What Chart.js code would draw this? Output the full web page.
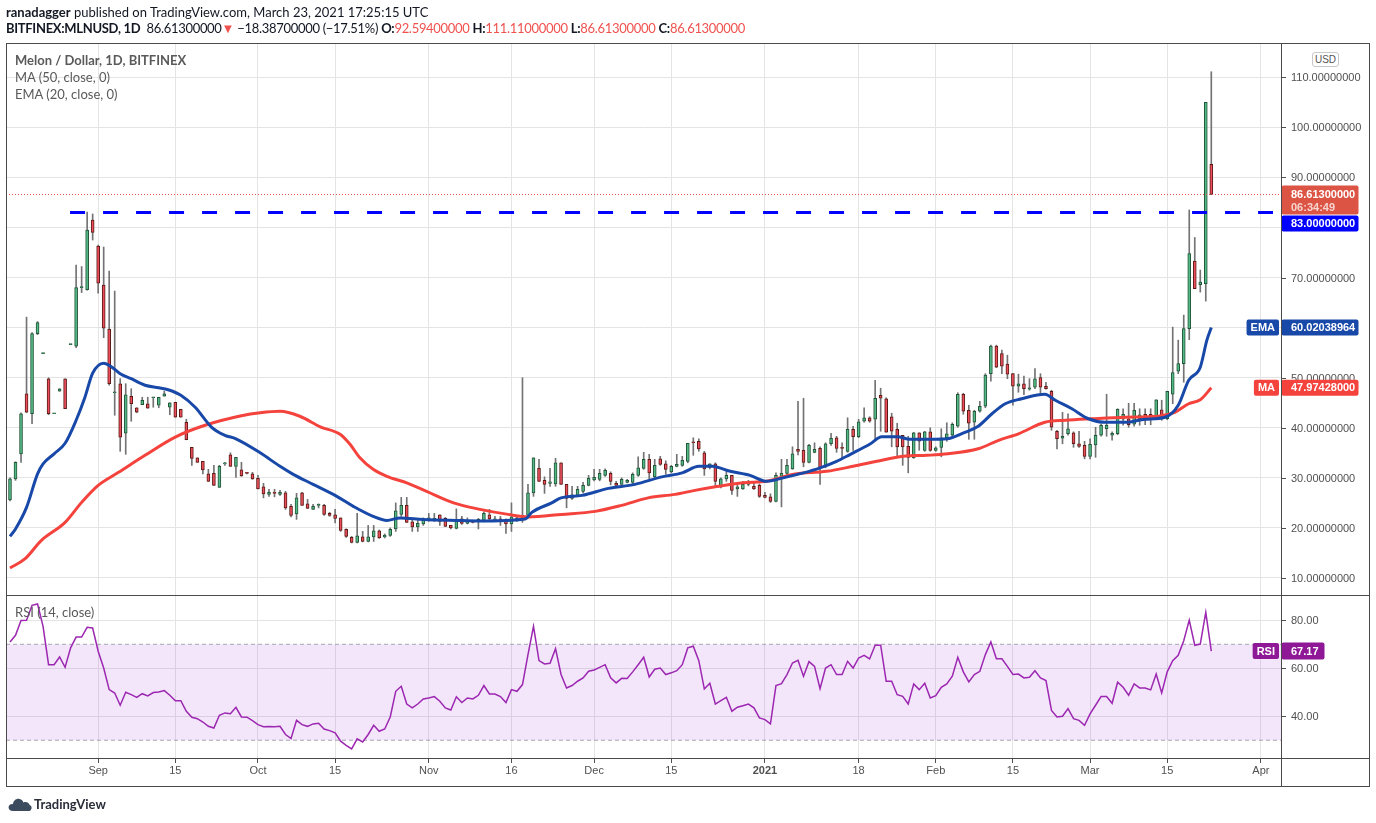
<!DOCTYPE html>
<html>
<head>
<meta charset="utf-8">
<title>Melon / Dollar, 1D, BITFINEX</title>
<script src="https://cdn.jsdelivr.net/npm/chart.js@4.4.1/dist/chart.umd.min.js"></script>
<style>
  html, body { margin: 0; padding: 0; background: #fff; }
  body { width: 1376px; height: 823px; position: relative; overflow: hidden;
         font-family: Lato, "Liberation Sans", sans-serif; color: #131722; }
  canvas { position: absolute; left: 0; top: 0; z-index: 1; }
  .txt { position: absolute; white-space: nowrap; z-index: 3; }
  .ln { position: absolute; background: #4a4a4a; z-index: 2; }
  .dn { color: #ef5350; }
  .hdr { font-size: 13px; line-height: 16px; }
  .lg { font-size: 13px; line-height: 17px; color: #5a5a5a; }
  #usd { position: absolute; left: 1312px; top: 52px; width: 25px; height: 13px; z-index: 3;
         border: 1px solid #c8c8c8; border-radius: 3px; font: 10px "Liberation Sans", Arial, sans-serif;
         line-height: 13px; text-align: center; color: #555; background: #fff; }
</style>
</head>
<body>

<div class="txt hdr" style="left:6px;top:4px"><b>ranadagger</b> published on TradingView.com, March 23, 2021 17:25:15 UTC</div>
<div class="txt hdr" style="left:6px;top:20px;letter-spacing:-0.3px"><b>BITFINEX:MLNUSD, 1D</b>&nbsp; 86.61300000<span class="dn">▼</span> −18.38700000 (−17.51%) <b>O:</b><span class="dn">92.59400000</span> <b>H:</b><span class="dn">111.11000000</span> <b>L:</b><span class="dn">86.61300000</span> <b>C:</b><span class="dn">86.61300000</span></div>

<div class="txt lg" style="left:15px;top:52px;font-weight:bold">Melon / Dollar, 1D, BITFINEX</div>
<div class="txt lg" style="left:15px;top:69px">MA (50, close, 0)</div>
<div class="txt lg" style="left:15px;top:86px">EMA (20, close, 0)</div>
<div class="txt lg" style="left:15px;top:604px">RSI (14, close)</div>
<div id="usd">USD</div>

<div class="ln" style="left:6px;top:43px;width:1364px;height:1px"></div>
<div class="ln" style="left:6px;top:786px;width:1364px;height:1px"></div>
<div class="ln" style="left:6px;top:43px;width:1px;height:744px"></div>
<div class="ln" style="left:1369px;top:43px;width:1px;height:744px"></div>
<div class="ln" style="left:1281px;top:43px;width:1px;height:744px"></div>
<div class="ln" style="left:6px;top:595px;width:1364px;height:1px"></div>
<div class="ln" style="left:6px;top:758px;width:1364px;height:1px"></div>

<svg class="txt" style="left:8px;top:796px" width="24" height="16" viewBox="0 0 24 16">
  <path d="M5 15 C1.5 15 0 12.5 0.8 10.3 C1.5 8.3 3.4 7.6 5 8 C5.4 4.8 7.8 2.6 10.8 2.8 C13.2 3 14.8 4.6 15.4 6.4 C17.6 5.2 21 6.2 21.6 9 C23.8 9.6 24.4 12.8 22.4 14.4 C21.8 14.8 21.2 15 20.4 15 Z" fill="#3d4b5e"/>
</svg>
<div class="txt" style="left:34px;top:796px;font-size:13px;line-height:16px;font-weight:bold;color:#2a2e39">TradingView</div>

<canvas id="rsiChart" width="1376" height="823"></canvas>
<canvas id="priceChart" width="1376" height="823"></canvas>

<script>
// daily candles, 16 Aug 2020 .. 23 Mar 2021 (index = bar number)
const openPx = [
  25.6, 29.8, 34.8, 46.8, 42.8, 58.8, 54.8, 49.8, 42.8, 47.3,
  49.8, 56.6, 56.3, 68.0, 67.6, 81.5, 76.3, 68.5, 59.7, 47.0,
  48.8, 38.9, 46.3, 44.0, 44.6, 44.8, 46.0, 44.5, 46.3, 44.1,
  45.1, 43.7, 41.1, 36.1, 34.0, 33.3, 30.8, 30.9, 28.1, 32.8,
  34.6, 32.3, 31.6, 31.0, 30.8, 29.9, 28.2, 26.7, 27.0, 26.7,
  27.0, 24.3, 22.8, 27.0, 24.8, 23.7, 24.5, 24.5, 22.9, 22.6,
  22.0, 19.7, 18.1, 17.1, 18.2, 17.3, 18.2, 19.4, 18.2, 18.5,
  19.8, 22.7, 24.5, 21.2, 20.2, 20.8, 21.8, 21.6, 22.6, 21.9,
  20.5, 19.9, 21.8, 20.9, 21.3, 21.2, 21.5, 22.6, 21.5, 21.8,
  21.5, 20.8, 21.5, 21.8, 22.5, 27.0, 31.9, 29.5, 28.9, 28.8,
  33.0, 28.7, 25.9, 26.5, 27.3, 28.5, 29.6, 29.7, 30.5, 30.9,
  28.9, 28.7, 29.1, 29.1, 30.5, 31.9, 33.7, 30.2, 33.8, 32.8,
  31.2, 32.3, 32.5, 33.3, 37.2, 37.3, 35.0, 32.1, 32.8, 28.2,
  29.8, 30.5, 27.8, 27.8, 28.7, 28.3, 28.5, 26.5, 26.2, 25.3,
  30.3, 30.9, 31.8, 35.7, 35.5, 33.1, 35.1, 35.9, 32.2, 36.8,
  38.0, 36.1, 35.3, 39.7, 38.2, 41.3, 42.0, 41.7, 46.5, 45.8,
  42.2, 39.7, 38.5, 36.3, 34.0, 39.0, 35.5, 39.2, 35.5, 36.1,
  38.0, 38.5, 40.3, 46.7, 43.5, 41.1, 43.3, 44.3, 50.8, 56.3,
  54.8, 52.7, 50.8, 48.3, 48.8, 47.7, 48.1, 50.0, 48.3, 47.3,
  39.3, 37.9, 38.8, 39.0, 36.8, 36.5, 34.3, 36.6, 38.5, 39.8,
  38.5, 38.8, 41.7, 41.8, 40.7, 41.8, 42.7, 42.7, 42.0, 43.6,
  41.8, 46.7, 51.3, 52.8, 59.8, 73.3, 68.6, 68.8, 92.594
];
const highPx = [
  30.0, 33.2, 43.0, 62.1, 59.0, 61.2, 54.8, 50.0, 42.8, 47.8,
  49.8, 56.6, 72.5, 72.2, 83.1, 82.7, 76.5, 76.1, 71.3, 67.3,
  49.8, 48.8, 47.8, 44.0, 46.1, 46.1, 46.0, 46.1, 47.3, 45.0,
  45.1, 43.7, 41.7, 36.1, 34.0, 33.3, 31.7, 32.5, 32.5, 33.1,
  35.0, 34.1, 33.1, 31.1, 31.1, 30.5, 28.9, 27.7, 27.7, 27.5,
  27.3, 24.7, 26.9, 27.1, 25.7, 24.7, 24.8, 24.7, 23.1, 23.7,
  22.0, 19.8, 18.3, 22.9, 19.3, 20.5, 20.5, 19.6, 18.8, 20.0,
  25.0, 26.1, 26.1, 21.8, 21.7, 22.0, 22.9, 22.9, 22.6, 22.1,
  20.5, 23.8, 22.3, 22.0, 21.4, 21.9, 23.2, 23.7, 22.3, 22.3,
  21.8, 25.0, 22.1, 50.0, 28.7, 34.0, 33.7, 30.2, 31.9, 33.9,
  33.0, 28.7, 28.3, 28.3, 29.1, 30.5, 31.7, 31.7, 31.8, 31.2,
  29.3, 30.0, 29.7, 31.0, 34.2, 35.1, 34.7, 33.7, 34.3, 33.4,
  32.5, 34.7, 34.3, 36.9, 38.0, 37.8, 35.3, 32.8, 33.0, 30.0,
  31.3, 30.5, 28.7, 29.3, 29.5, 29.3, 28.8, 27.1, 26.8, 31.0,
  33.7, 33.7, 36.2, 45.3, 45.9, 36.7, 37.0, 36.2, 37.0, 38.9,
  38.3, 37.0, 42.0, 40.3, 41.7, 44.0, 42.2, 49.5, 47.9, 46.0,
  42.9, 40.9, 38.5, 38.3, 39.1, 39.0, 39.3, 40.0, 36.2, 39.8,
  41.0, 41.0, 47.0, 46.9, 44.5, 43.5, 45.3, 50.8, 56.5, 56.5,
  55.5, 54.5, 50.8, 50.7, 50.3, 49.8, 51.8, 50.8, 49.1, 47.5,
  39.5, 43.1, 42.8, 39.2, 39.3, 37.3, 37.8, 40.1, 40.7, 46.7,
  39.2, 43.8, 43.8, 44.9, 44.9, 43.8, 43.8, 43.8, 45.6, 45.5,
  47.3, 60.1, 57.5, 62.5, 83.5, 78.0, 71.5, 105.0, 111.11
];
const lowPx = [
  25.4, 29.5, 33.1, 43.0, 40.8, 58.6, 54.8, 42.6, 42.8, 47.3,
  43.8, 56.6, 56.0, 67.0, 67.5, 77.5, 66.9, 58.0, 48.5, 42.5,
  35.3, 34.7, 41.3, 43.0, 44.6, 43.9, 44.1, 44.0, 46.3, 42.6,
  42.1, 42.1, 37.6, 32.5, 33.1, 30.8, 29.3, 28.5, 28.1, 32.5,
  32.3, 30.1, 30.3, 30.8, 29.7, 27.8, 26.0, 26.3, 26.2, 26.5,
  23.7, 22.2, 21.7, 24.5, 23.9, 23.7, 24.0, 22.5, 22.3, 21.0,
  19.3, 18.1, 17.0, 17.0, 17.2, 17.2, 17.3, 17.9, 18.0, 18.3,
  19.3, 22.3, 21.1, 19.3, 19.3, 20.5, 21.3, 21.3, 20.5, 20.3,
  19.8, 19.8, 20.7, 20.8, 21.0, 19.8, 21.2, 21.5, 21.3, 20.5,
  18.9, 19.3, 21.3, 21.1, 22.3, 26.3, 29.3, 26.9, 28.3, 28.3,
  28.7, 24.0, 25.7, 26.3, 27.0, 28.4, 29.4, 29.4, 30.3, 28.6,
  28.5, 28.7, 29.0, 28.7, 30.3, 31.7, 29.7, 30.0, 32.5, 30.7,
  31.0, 32.2, 32.3, 33.0, 34.5, 35.3, 30.5, 31.8, 28.1, 28.0,
  29.3, 26.7, 26.3, 27.7, 28.4, 27.7, 26.1, 26.0, 25.1, 25.2,
  24.2, 30.5, 31.7, 34.6, 32.2, 33.0, 35.0, 28.7, 32.0, 36.5,
  35.1, 33.7, 35.1, 35.5, 38.0, 41.1, 41.1, 37.8, 39.3, 39.1,
  36.2, 34.0, 32.5, 31.0, 33.9, 35.5, 35.3, 35.3, 35.3, 34.2,
  37.3, 38.3, 40.1, 42.7, 37.7, 37.7, 43.1, 44.0, 49.3, 52.0,
  50.8, 49.8, 44.5, 47.1, 46.6, 47.5, 47.8, 46.8, 47.7, 39.5,
  35.8, 36.8, 38.5, 36.1, 36.1, 33.8, 33.8, 34.1, 38.3, 38.3,
  37.5, 38.6, 40.5, 40.1, 40.3, 40.5, 40.6, 40.6, 41.8, 41.5,
  41.6, 44.8, 50.8, 49.1, 57.6, 67.8, 67.1, 65.3, 86.613
];
const closePx = [
  29.8, 33.1, 42.8, 43.1, 58.8, 61.0, 54.8, 42.8, 42.8, 47.8,
  43.8, 56.6, 68.0, 68.0, 79.5, 79.0, 68.9, 59.9, 48.8, 47.0,
  38.1, 46.6, 44.8, 43.1, 45.5, 43.9, 46.0, 46.1, 46.8, 45.0,
  42.1, 42.1, 37.6, 33.9, 33.1, 31.6, 29.3, 28.5, 32.3, 32.8,
  32.3, 34.1, 30.4, 30.9, 29.8, 27.8, 26.8, 27.1, 26.9, 27.1,
  24.0, 22.5, 26.0, 24.5, 23.9, 24.3, 24.5, 22.7, 22.5, 21.9,
  19.5, 18.3, 17.1, 18.4, 17.3, 18.2, 19.4, 18.0, 18.5, 19.7,
  23.4, 24.5, 21.1, 20.2, 20.9, 21.6, 21.8, 21.9, 21.3, 20.3,
  20.0, 21.5, 20.9, 21.5, 21.1, 21.7, 22.9, 21.8, 21.8, 21.3,
  20.8, 22.2, 22.0, 22.5, 27.0, 34.0, 29.3, 28.7, 29.2, 33.0,
  28.7, 25.9, 26.6, 27.7, 28.5, 29.9, 30.1, 30.9, 31.5, 29.3,
  28.5, 29.7, 29.5, 30.7, 32.0, 33.7, 31.0, 32.5, 32.7, 31.7,
  32.3, 32.7, 33.5, 36.9, 37.0, 35.8, 31.8, 32.8, 29.3, 29.8,
  30.5, 27.5, 28.2, 28.7, 29.1, 27.8, 26.3, 26.1, 25.3, 30.5,
  30.9, 32.5, 34.8, 35.3, 33.1, 36.5, 35.7, 32.0, 36.8, 37.9,
  35.9, 35.9, 39.7, 38.2, 41.2, 42.0, 41.3, 45.9, 45.9, 39.1,
  39.3, 36.2, 36.2, 34.1, 39.0, 37.3, 39.2, 35.5, 36.0, 38.0,
  38.8, 40.7, 46.7, 43.3, 40.9, 43.3, 44.3, 50.5, 56.3, 52.1,
  52.3, 50.7, 48.3, 48.8, 47.8, 48.0, 49.8, 48.1, 47.8, 40.1,
  37.8, 38.3, 39.8, 36.8, 36.3, 34.3, 36.7, 38.5, 40.5, 40.5,
  38.9, 43.7, 42.7, 40.6, 43.5, 42.6, 42.1, 42.0, 45.6, 41.8,
  47.3, 51.0, 52.8, 59.8, 74.8, 67.8, 69.1, 105.0, 86.613
];

// indicator lines (bar index -> value)
const emaIdx = [0, 1, 3, 5, 6, 8, 10, 12, 13.6, 15, 17, 18.5, 20, 22, 24.5, 27, 28.7, 31, 33.6, 36.6,
  39, 41, 45.4, 49, 51.4, 55, 59.3, 62.3, 65.9, 68.4, 70.8, 75, 81, 85, 93.5, 94.7, 98.3, 100, 103.8, 108.6,
  113.4, 118.3, 122, 125, 127.4, 130.7, 134.3, 137.3, 140.3, 144, 147, 150, 152.5, 156, 158.2, 161, 163.3, 167, 170, 173.3,
  175.7, 178.2, 180.6, 183.6, 187.8, 189.7, 192.7, 195.7, 198.7, 202.4, 206, 209.6, 212, 213.9, 216, 217.2, 218];
const emaVal = [18.3, 19.8, 24.1, 30.8, 32.8, 34.8, 36.9, 41.5, 46.1, 50.9, 52.9, 52.1, 50.8, 49.8, 48.5, 48.0, 47.6, 46.5, 44.1, 40.1,
  38.5, 37.8, 35.0, 32.3, 30.7, 28.7, 26.3, 24.3, 22.3, 21.5, 22.0, 21.7, 21.5, 21.4, 21.8, 23.1, 25.0, 26.0, 26.5, 27.9,
  28.7, 30.2, 31.0, 32.3, 32.3, 31.3, 30.5, 29.3, 30.0, 31.0, 32.0, 33.3, 34.7, 36.7, 38.2, 38.2, 37.7, 37.7, 37.8, 39.1,
  40.3, 42.8, 44.8, 45.8, 46.7, 45.5, 43.8, 41.8, 41.1, 41.1, 41.7, 42.1, 44.5, 49.5, 52.1, 57.5, 60.02038964];
const maIdx = [0, 2.7, 5.7, 10, 13, 16, 19.7, 24.5, 29.9, 35.4, 42, 45.4, 49, 52.6, 56.3, 59.9, 61.7, 63.5, 65.9, 68.4,
  72, 75.6, 80.5, 85.3, 90.4, 94.1, 100.1, 106.2, 111, 115.8, 120.7, 124.3, 128, 133.1, 137.3, 142.2, 148.2, 153, 157.3, 162.1,
  166.4, 170.2, 175.7, 179.4, 183, 187.8, 191.5, 196.3, 202.4, 208.4, 211.4, 213.9, 216, 218];
const maVal = [12.0, 13.8, 17.5, 21.1, 25.1, 28.5, 31.1, 34.5, 38.1, 40.5, 42.4, 43.0, 43.3, 42.3, 40.2, 38.7, 36.7, 34.0, 31.7, 30.3,
  29.0, 27.3, 25.0, 23.7, 22.7, 22.2, 22.7, 23.3, 24.5, 26.0, 26.7, 27.5, 28.2, 29.0, 29.3, 30.7, 31.3, 32.3, 33.3, 34.3,
  34.5, 34.8, 35.8, 37.5, 38.8, 41.1, 41.5, 41.8, 42.1, 42.3, 43.1, 44.8, 45.6, 47.97428];

// RSI(14), one value per bar
const rsiVal = [
  71.0, 73.75, 79.9, 80.0, 86.25, 86.8, 77.5, 61.5, 61.5, 64.7,
  60.4, 68.5, 73.0, 73.0, 77.1, 76.8, 67.1, 60.1, 51.1, 49.7,
  44.6, 50.0, 49.0, 47.9, 49.4, 48.5, 49.9, 50.1, 50.7, 48.75,
  46.5, 46.5, 42.1, 39.6, 39.0, 37.6, 35.8, 35.1, 40.4, 41.4,
  41.1, 43.75, 39.7, 39.6, 38.2, 36.5, 35.6, 35.7, 35.6, 35.8,
  32.4, 30.7, 38.3, 36.5, 35.8, 36.8, 37.1, 34.7, 34.0, 33.1,
  29.6, 27.9, 26.4, 30.6, 29.3, 32.4, 36.25, 33.75, 34.7, 39.7,
  50.4, 52.5, 45.1, 43.5, 45.1, 47.2, 47.6, 48.2, 46.25, 43.5,
  42.6, 48.1, 45.7, 47.6, 47.2, 48.75, 52.8, 49.3, 49.3, 48.2,
  45.7, 51.1, 50.4, 53.2, 65.7, 77.5, 63.2, 61.8, 62.1, 68.2,
  57.4, 51.8, 52.8, 54.6, 56.0, 58.75, 59.3, 60.4, 61.5, 56.0,
  53.9, 55.8, 55.7, 58.5, 61.5, 64.6, 56.4, 59.6, 60.1, 57.4,
  58.1, 59.0, 61.5, 68.5, 69.2, 63.2, 51.4, 53.75, 45.1, 46.5,
  47.9, 42.1, 43.75, 44.4, 45.1, 43.5, 39.3, 38.6, 36.8, 52.8,
  53.6, 57.4, 62.2, 63.3, 56.7, 62.8, 60.8, 51.5, 60.1, 61.5,
  57.4, 57.4, 62.9, 60.1, 64.3, 65.4, 63.9, 69.6, 69.6, 54.6,
  54.6, 49.0, 48.3, 45.1, 53.5, 51.1, 53.75, 47.6, 48.6, 52.1,
  53.5, 56.7, 64.6, 58.5, 54.3, 57.4, 58.75, 65.7, 71.0, 64.0,
  64.0, 60.8, 57.4, 57.6, 56.0, 56.25, 59.0, 56.0, 54.9, 42.4,
  39.7, 40.0, 43.2, 39.0, 38.3, 36.25, 41.0, 44.6, 48.2, 48.2,
  45.4, 54.2, 52.1, 48.75, 53.5, 51.8, 51.8, 51.0, 57.6, 49.7,
  58.5, 63.2, 65.4, 71.5, 80.1, 69.6, 70.1, 83.3, 67.17
];

// axes
const tickIdx = [16, 30, 45, 59, 76, 91, 106, 120, 137, 154, 168, 182, 196, 210, 227];
const tickLabels = ['Sep', '15', 'Oct', '15', 'Nov', '16', 'Dec', '15', '2021', '18', 'Feb', '15', 'Mar', '15', 'Apr'];
const priceTicks = [10, 20, 30, 40, 50, 60, 70, 80, 90, 100, 110];
const rsiTicks = [40, 60, 80];
const rsiBand = [30, 70];
const levelPrice = 83;
const levelFrom = 10.9, levelTo = 229.2;
const xMin = -0.726, xMax = 230.65;

const upFill = '#53b987', upLine = '#225437';
const dnFill = '#eb4d5c', dnLine = '#5b1a13';
const wickColor = '#737375';
const emaColor = '#1848a8', maColor = '#f4433c', rsiColor = '#9c27b0';
const lastColor = '#ef5350', gridColor = '#e4e4e4', textColor = '#505050';
const axisFont = '11px "Liberation Sans", Arial, sans-serif';
const tagFont = 'bold 11px "Liberation Sans", Arial, sans-serif';

const lastClose = closePx[closePx.length - 1];
const isUp = closePx.map((c, i) => c >= openPx[i]);

function tag(ctx, x, top, w, h, color) {
  ctx.fillStyle = color;
  ctx.beginPath();
  if (ctx.roundRect) ctx.roundRect(x, top, w, h, 2); else ctx.rect(x, top, w, h);
  ctx.fill();
}

function sideTag(ctx, right, cy, text, color) {
  ctx.font = tagFont;
  const w = ctx.measureText(text).width + 8;
  tag(ctx, right - w, cy - 8, w, 16, color);
  ctx.fillStyle = '#fff';
  ctx.textAlign = 'center';
  ctx.fillText(text, right - w / 2, cy + 0.5);
  ctx.textAlign = 'left';
}

function axisLabels(chart, ticks, digits) {
  const { ctx, chartArea: a, scales: { y } } = chart;
  ctx.font = axisFont;
  ctx.fillStyle = textColor;
  ctx.strokeStyle = textColor;
  ctx.lineWidth = 1;
  ctx.textBaseline = 'middle';
  ticks.forEach(v => {
    const py = Math.round(y.getPixelForValue(v)) + 0.5;
    ctx.beginPath();
    ctx.moveTo(a.right + 1, py);
    ctx.lineTo(a.right + 5, py);
    ctx.stroke();
    ctx.fillText(v.toFixed(digits), a.right + 10, py);
  });
}

function xScale(showLabels) {
  return {
    type: 'linear', min: xMin, max: xMax, offset: false,
    grid: { color: gridColor, offset: false, drawTicks: showLabels, tickLength: 5, tickColor: '#505050' },
    border: { display: false },
    ticks: {
      display: showLabels, autoSkip: false, maxRotation: 0, padding: 1, color: textColor,
      font: ctx => ({ family: '"Liberation Sans", Arial, sans-serif', size: 11,
                      weight: ctx.tick && ctx.tick.value === 137 ? 'bold' : 'normal' }),
      callback: v => tickLabels[tickIdx.indexOf(v)] || ''
    },
    afterBuildTicks: ax => { ax.ticks = tickIdx.map(v => ({ value: v })); },
    afterFit: ax => { ax.height = showLabels ? 28 : 0; }
  };
}

function yScale(min, max, ticks) {
  return {
    type: 'linear', position: 'right', min: min, max: max,
    grid: { color: gridColor, drawTicks: false },
    border: { display: false },
    ticks: { display: false },
    afterBuildTicks: ax => { ax.ticks = ticks.map(v => ({ value: v })); },
    afterFit: ax => { ax.width = 0; }
  };
}

const pricePlugin = {
  id: 'pricePlugin',
  afterDatasetsDraw(chart) {
    const { ctx, chartArea: a, scales: { y } } = chart;
    const py = Math.round(y.getPixelForValue(lastClose)) + 0.5;
    ctx.save();
    ctx.strokeStyle = lastColor;
    ctx.lineWidth = 1;
    ctx.setLineDash([1, 2]);
    ctx.beginPath();
    ctx.moveTo(a.left, py);
    ctx.lineTo(a.right, py);
    ctx.stroke();
    ctx.restore();
  },
  afterDraw(chart) {
    const { ctx, chartArea: a, scales: { y } } = chart;
    ctx.save();
    axisLabels(chart, priceTicks, 8);
    const x0 = a.right + 0.5, w = 77;
    const yLast = y.getPixelForValue(lastClose);
    tag(ctx, x0, yLast - 9, w, 29, '#dc5444');
    ctx.font = tagFont;
    ctx.fillStyle = '#fff';
    ctx.fillText(lastClose.toFixed(8), a.right + 10, yLast + 0.5);
    ctx.fillStyle = 'rgba(255,255,255,0.75)';
    ctx.fillText('06:34:49', a.right + 10, yLast + 13.5);

    const yLevel = Math.max(y.getPixelForValue(levelPrice), yLast + 29);
    tag(ctx, x0, yLevel - 8, w, 16, '#0000ff');
    ctx.fillStyle = '#fff';
    ctx.fillText(levelPrice.toFixed(8), a.right + 10, yLevel + 0.5);

    const emaLast = emaVal[emaVal.length - 1];
    const yEma = y.getPixelForValue(emaLast);
    tag(ctx, x0, yEma - 8, w, 16, emaColor);
    ctx.fillStyle = '#fff';
    ctx.fillText(emaLast.toFixed(8), a.right + 10, yEma + 0.5);
    sideTag(ctx, a.right - 2, yEma, 'EMA', emaColor);

    const maLast = maVal[maVal.length - 1];
    const yMa = y.getPixelForValue(maLast);
    tag(ctx, x0, yMa - 8, w, 16, maColor);
    ctx.fillStyle = '#fff';
    ctx.font = tagFont;
    ctx.fillText(maLast.toFixed(8), a.right + 10, yMa + 0.5);
    sideTag(ctx, a.right - 2, yMa, 'MA', maColor);
    ctx.restore();
  }
};

const rsiPlugin = {
  id: 'rsiPlugin',
  afterDraw(chart) {
    const { ctx, chartArea: a, scales: { y } } = chart;
    ctx.save();
    axisLabels(chart, rsiTicks, 2);
    const rsiLast = rsiVal[rsiVal.length - 1];
    const yr = y.getPixelForValue(rsiLast);
    tag(ctx, a.right + 0.5, yr - 8.5, 43, 17, '#8e1896');
    ctx.font = tagFont;
    ctx.fillStyle = '#fff';
    ctx.fillText(rsiLast.toFixed(2), a.right + 10, yr + 0.5);
    sideTag(ctx, a.right - 2, yr, 'RSI', '#8e1896');
    ctx.restore();
  }
};

new Chart(document.getElementById('priceChart'), {
  type: 'bar',
  data: {
    datasets: [
      {
        type: 'line', order: 0, data: [{ x: levelFrom, y: levelPrice }, { x: levelTo, y: levelPrice }],
        borderColor: '#0000ff', borderWidth: 3, borderDash: [15, 18], pointRadius: 0, fill: false
      },
      {
        type: 'line', order: 1, data: emaIdx.map((x, k) => ({ x: x, y: emaVal[k] })),
        borderColor: emaColor, borderWidth: 3, pointRadius: 0, cubicInterpolationMode: 'monotone', fill: false
      },
      {
        type: 'line', order: 1, data: maIdx.map((x, k) => ({ x: x, y: maVal[k] })),
        borderColor: maColor, borderWidth: 3, pointRadius: 0, cubicInterpolationMode: 'monotone', fill: false
      },
      {
        type: 'bar', order: 2, grouped: false,
        data: closePx.map((c, i) => ({ x: i, y: [openPx[i], c] })),
        backgroundColor: isUp.map(u => u ? upFill : dnFill),
        borderColor: isUp.map(u => u ? upLine : dnLine),
        borderWidth: 1, borderSkipped: false, barThickness: 3, minBarLength: 1
      },
      {
        type: 'bar', order: 3, grouped: false,
        data: lowPx.map((l, i) => ({ x: i, y: [l, highPx[i]] })),
        backgroundColor: wickColor, borderWidth: 0, barThickness: 1
      }
    ]
  },
  options: {
    responsive: false, animation: false,
    layout: { padding: { left: 6, right: 95, top: 44, bottom: 228 } },
    plugins: { legend: { display: false }, tooltip: { enabled: false } },
    scales: { x: xScale(false), y: yScale(6.6, 116.65, priceTicks) }
  },
  plugins: [pricePlugin]
});

new Chart(document.getElementById('rsiChart'), {
  type: 'line',
  data: {
    datasets: [
      {
        order: 0, data: rsiVal.map((v, i) => ({ x: i, y: v })),
        borderColor: rsiColor, borderWidth: 1.5, pointRadius: 0, tension: 0, fill: false
      },
      {
        order: 2, data: [{ x: xMin, y: rsiBand[1] }, { x: xMax, y: rsiBand[1] }],
        borderColor: '#a8a8b0', borderWidth: 1, borderDash: [4, 3], pointRadius: 0,
        fill: '+1', backgroundColor: 'rgba(155,50,220,0.12)'
      },
      {
        order: 2, data: [{ x: xMin, y: rsiBand[0] }, { x: xMax, y: rsiBand[0] }],
        borderColor: '#a8a8b0', borderWidth: 1, borderDash: [4, 3], pointRadius: 0, fill: false
      }
    ]
  },
  options: {
    responsive: false, animation: false,
    layout: { padding: { left: 6, right: 95, top: 595, bottom: 37 } },
    plugins: { legend: { display: false }, tooltip: { enabled: false } },
    scales: { x: xScale(true), y: yScale(22.6, 90.55, rsiTicks) }
  },
  plugins: [rsiPlugin]
});
</script>
</body>
</html>
